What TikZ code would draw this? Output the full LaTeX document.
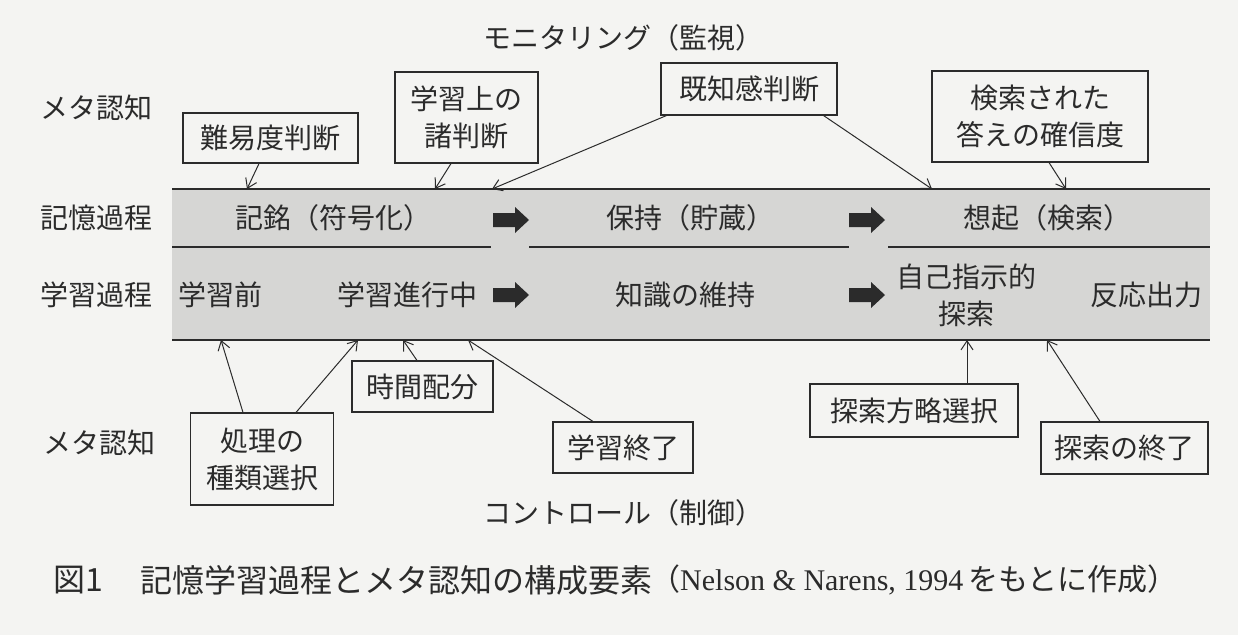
\documentclass[tikz,border=0pt]{standalone}
\usepackage{fontspec}
\setmainfont{Noto Sans CJK JP}
\newfontfamily\seriffont{Liberation Serif}
\usetikzlibrary{arrows.meta}
\definecolor{ink}{HTML}{2B2B2B}
\definecolor{bandgray}{HTML}{D6D6D4}
\definecolor{paper}{HTML}{F4F4F2}
\tikzset{
  lbl/.style={inner sep=0pt, text=ink, font=\fontsize{28}{37}\selectfont, align=center},
  bx/.style={draw=ink, line width=1.1pt, inner sep=0pt, text=ink, font=\fontsize{28}{37}\selectfont, align=center},
  arr/.style={draw=ink, line width=1pt, -{Straight Barb[length=9pt,width=12pt]}},
  bandline/.style={draw=ink, line width=1.3pt},
  barrow/.pic={\fill[ink] (-17,-7) -- (5,-7) -- (5,-13) -- (19,0) -- (5,13) -- (5,7) -- (-17,7) -- cycle;}
}
\begin{document}
\begin{tikzpicture}[x=1pt,y=-1pt]
\useasboundingbox (0,0) rectangle (1238,635);
\fill[paper] (0,0) rectangle (1238,635);

% band
\fill[bandgray] (172,189) rectangle (1210,340);
\draw[bandline] (172,189) -- (1210,189);
\draw[bandline] (172,247) -- (491,247);
\draw[bandline] (529,247) -- (849,247);
\draw[bandline] (888,247) -- (1210,247);
\draw[bandline] (172,340) -- (1210,340);

% headings
\node[lbl] (mon) at (623,38) {モニタリング（監視）};
\node[lbl,anchor=west] (meta1) at (40,108) {メタ認知};
\node[lbl,anchor=west] (kioku) at (40,218) {記憶過程};
\node[lbl,anchor=west] (gproc) at (40,295) {学習過程};
\node[lbl,anchor=west] (meta2) at (43,443) {メタ認知};
\node[lbl] (ctrl) at (623,513) {コントロール（制御）};

% row 1
\node[lbl] (kimei) at (333,218) {記銘（符号化）};
\node[lbl] (hoji) at (690,218) {保持（貯蔵）};
\node[lbl] (soki) at (1047,218) {想起（検索）};
\pic at (510,220) {barrow};
\pic at (866,220) {barrow};

% row 2
\node[lbl] (mae) at (220,295) {学習前};
\node[lbl] (shinko) at (407,295) {学習進行中};
\node[lbl] (iji) at (685,295) {知識の維持};
\node[lbl] (jiko) at (966,295) {自己指示的\\探索};
\node[lbl] (hanno) at (1146,295) {反応出力};
\pic at (510,295) {barrow};
\pic at (866,295) {barrow};

% monitoring boxes
\node[bx,minimum width=175pt,minimum height=50pt] (nan) at (270.5,138) {難易度判断};
\node[bx,minimum width=143pt,minimum height=91pt] (jo) at (466.5,117.5) {学習上の\\諸判断};
\node[bx,minimum width=176pt,minimum height=52pt] (ki) at (749,89) {既知感判断};
\node[bx,minimum width=216pt,minimum height=91pt] (ken) at (1040,116.5) {検索された\\答えの確信度};

% control boxes
\node[bx,minimum width=143pt,minimum height=92pt] (shori) at (262,459) {処理の\\種類選択};
\node[bx,minimum width=141pt,minimum height=51pt] (jikan) at (422.5,386.5) {時間配分};
\node[bx,minimum width=140pt,minimum height=51pt] (shuryo) at (623,447.5) {学習終了};
\node[bx,minimum width=208pt,minimum height=53pt] (hoho) at (914,410.5) {探索方略選択};
\node[bx,minimum width=167pt,minimum height=52pt] (tend) at (1124.5,448) {探索の終了};

% band target points
\coordinate (t1) at (247,189);
\coordinate (t2) at (435,189);
\coordinate (t3) at (492,189);
\coordinate (t4) at (932,189);
\coordinate (t5) at (1066,189);
\coordinate (u1) at (221,340);
\coordinate (u2) at (358,340);
\coordinate (u3) at (403,340);
\coordinate (u4) at (468,340);
\coordinate (u5) at (967,340);
\coordinate (u6) at (1047,340);

% monitoring arrows
\draw[arr] ([xshift=-11.5pt]nan.south) -- (t1);
\draw[arr] ([xshift=-15.5pt]jo.south) -- (t2);
\draw[arr] ([xshift=6pt]ki.south west) -- (t3);
\draw[arr] ([xshift=-14pt]ki.south east) -- (t4);
\draw[arr] ([xshift=9pt]ken.south) -- (t5);

% control arrows
\draw[arr] ([xshift=-19pt]shori.north) -- (u1);
\draw[arr] ([xshift=34pt]shori.north) -- (u2);
\draw[arr] ([xshift=-5.5pt]jikan.north) -- (u3);
\draw[arr] ([xshift=-30pt]shuryo.north) -- (u4);
\draw[arr] ([xshift=53pt]hoho.north) -- (u5);
\draw[arr] ([xshift=-24.5pt]tend.north) -- (u6);

% caption
\node[lbl,anchor=west,font=\fontsize{32}{38}\selectfont] (cap1) at (53,580) {図1};
\node[lbl,anchor=west,font=\fontsize{32}{38}\selectfont] (cap2) at (140,580) {記憶学習過程とメタ認知の構成要素};
\node[lbl,anchor=west,font=\fontsize{30}{36}\selectfont] (cap3) at (650,580) {（{\seriffont Nelson \& Narens, 1994}\,をもとに作成）};
\end{tikzpicture}
\end{document}
